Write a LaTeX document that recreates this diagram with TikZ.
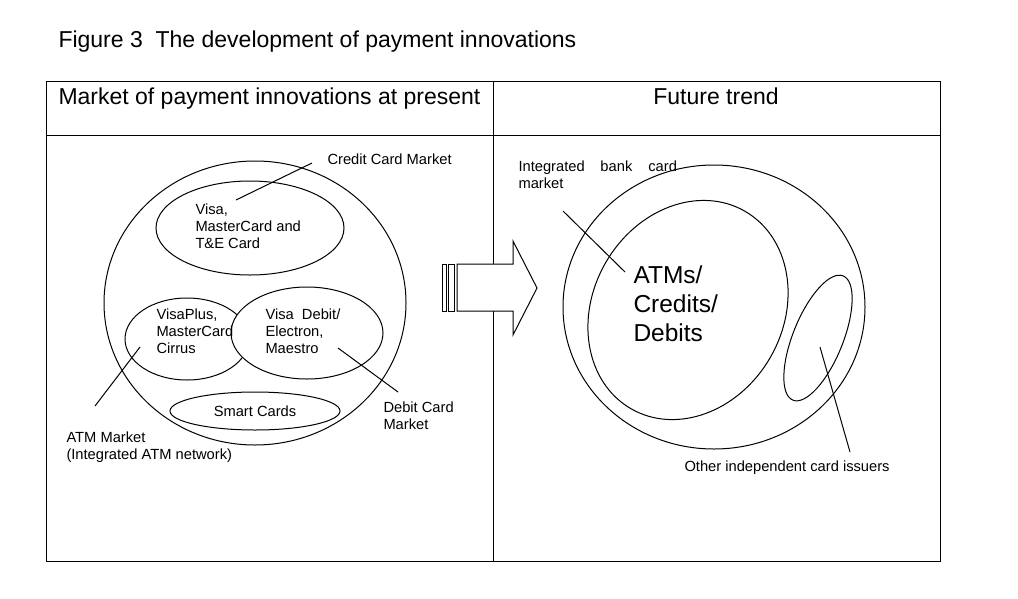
\documentclass[tikz,border=0pt]{standalone}
\usepackage{fontspec}
\setmainfont{Liberation Sans}
\usetikzlibrary{positioning}

\begin{document}
\begin{tikzpicture}[x=1pt,y=-1pt,line width=1pt,
  small/.style={font=\fontsize{14.7}{17}\selectfont,inner sep=0pt,align=left},
  big/.style={font=\fontsize{23}{27}\selectfont,inner sep=0pt},
  huge/.style={font=\fontsize{24.5}{29}\selectfont,inner sep=0pt,align=left}]
\useasboundingbox (0,0) rectangle (1018,598);

\node[big,anchor=west] (title) at (58,42) {Figure 3\ \ The development of payment innovations};

% table
\coordinate (TL) at (46,81);
\coordinate (BR) at (940,561);
\coordinate (RowL) at (46,135);
\coordinate (RowR) at (940,135);
\coordinate (MidT) at (493,81);
\coordinate (MidB) at (493,561);
\draw (TL) rectangle (BR);
\draw (RowL) -- (RowR);
\draw (MidT) -- (MidB);
\node[big,anchor=west] (hleft) at (58,99) {Market of payment innovations at present};
\node[big] (hright) at (716,96) {Future trend};

% present market
\coordinate (Mkt) at (255,303);
\coordinate (CrC) at (250,228);
\coordinate (AtmC) at (187,339);
\coordinate (DebC) at (307,333);
\coordinate (SmC) at (255,411);
\draw (Mkt) ellipse [x radius=151,y radius=142];
\draw (CrC) ellipse [x radius=94,y radius=47];
\draw (AtmC) ellipse [x radius=62,y radius=41];
\draw[fill=white] (DebC) ellipse [x radius=76,y radius=46];
\draw (SmC) ellipse [x radius=85,y radius=19];

\node[small,anchor=west] (visa) at (195,226) {Visa,\\MasterCard and\\T\&E Card};
\node[small,anchor=west] (plus) at (156,331) {VisaPlus,\\MasterCard\\Cirrus};
\node[small,anchor=west] (debit) at (265,331) {Visa\ \ Debit/\\Electron,\\Maestro};
\node[small] (smart) at (SmC) {Smart Cards};
\node[small,anchor=west] (ccm) at (327,159) {Credit Card Market};
\node[small,anchor=west] (atm) at (66,447) {ATM Market\\(Integrated ATM network)};
\node[small,anchor=west] (dcm) at (383,416) {Debit Card\\Market};

\coordinate (ccA) at (312,163);
\coordinate (ccB) at (236,200);
\coordinate (atA) at (140,347);
\coordinate (atB) at (95,406);
\coordinate (dcA) at (338,348);
\coordinate (dcB) at (398,392);
\draw (ccA) -- (ccB);
\draw (atA) -- (atB);
\draw (dcA) -- (dcB);

% arrow
\coordinate (arL) at (457,264);
\draw[fill=white] (arL) -- (513,264) -- (513,241) -- (537,288) -- (513,335) -- (513,311) -- (457,311) -- cycle;
\draw[fill=white,line width=.8pt] (442,264) rectangle (446,311);
\draw[fill=white,line width=.8pt] (448,264) rectangle (454,311);

% future trend
\coordinate (Fut) at (714,307);
\coordinate (Bank) at (688,310);
\coordinate (Oth) at (818,338);
\draw (Fut) ellipse [x radius=151,y radius=142];
\draw[rotate around={-30:(Bank)}] (Bank) ellipse [x radius=95,y radius=114];
\draw[rotate around={-22:(Oth)}] (Oth) ellipse [x radius=25,y radius=67];

\node[small,anchor=west] (ibm) at (518,175) {Integrated\hspace{15.8pt}bank\hspace{16pt}card\\market};
\node[huge,anchor=west] (core) at (633,304) {ATMs/\\Credits/\\Debits};
\node[small,anchor=west] (oth) at (684,468) {Other independent card issuers};

\coordinate (ibA) at (563,211);
\coordinate (ibB) at (625,272);
\coordinate (otA) at (820,347);
\coordinate (otB) at (850,452);
\draw (ibA) -- (ibB);
\draw (otA) -- (otB);
\end{tikzpicture}
\end{document}
